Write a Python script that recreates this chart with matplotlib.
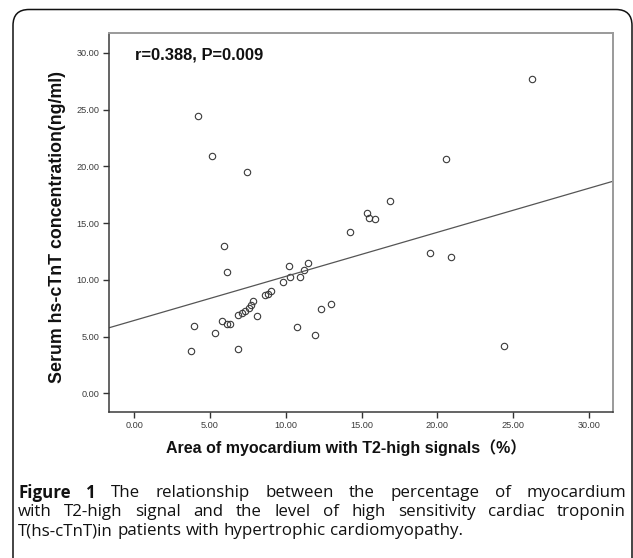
import matplotlib

matplotlib.use("Agg")
import matplotlib.pyplot as plt
import numpy as np
from matplotlib.patches import FancyBboxPatch
from matplotlib.transforms import IdentityTransform

# --- data -------------------------------------------------------------------
area_pct = [
    3.72, 3.92, 4.22, 5.11, 5.33, 5.81, 5.94, 6.10, 6.14, 6.34,
    6.82, 6.84, 7.09, 7.31, 7.46, 7.55, 7.72, 7.82, 8.09, 8.65,
    8.85, 9.03, 9.83, 10.23, 10.26, 10.74, 10.91, 11.21, 11.45, 11.95,
    12.32, 13.00, 14.23, 15.38, 15.51, 15.87, 16.88, 19.52, 20.55, 20.90,
    24.42, 26.25,
]
tnt_ngml = [
    3.73, 5.96, 24.43, 20.91, 5.34, 6.35, 13.00, 6.10, 10.73, 6.13,
    3.90, 6.86, 7.10, 7.29, 19.53, 7.50, 7.80, 8.10, 6.81, 8.62,
    8.78, 9.01, 9.81, 11.24, 10.22, 5.83, 10.22, 10.90, 11.48, 5.12,
    7.46, 7.84, 14.24, 15.89, 15.47, 15.38, 16.92, 12.36, 20.62, 12.01,
    4.20, 27.70,
]
fit_intercept = 6.42
fit_slope = 0.388

x_ticks = [0, 5, 10, 15, 20, 25, 30]
y_ticks = [0, 5, 10, 15, 20, 25, 30]
stat_text = "r=0.388, P=0.009"
x_label = "Area of myocardium with T2-high signals（%）"
y_label = "Serum hs-cTnT concentration(ng/ml)"
caption_lines = [
    [("Figure", "bold"), ("1", "bold"), ("The", "normal"), ("relationship", "normal"),
     ("between", "normal"), ("the", "normal"), ("percentage", "normal"),
     ("of", "normal"), ("myocardium", "normal")],
    [(w, "normal") for w in
     "with T2-high signal and the level of high sensitivity cardiac troponin".split()],
    [(w, "normal") for w in
     "T(hs-cTnT)in patients with hypertrophic cardiomyopathy.".split()],
]

# --- layout (pixels of a 633 x 558 image) -----------------------------------
W, H = 633, 558
SANS = ["Liberation Sans", "DejaVu Sans"]
SANS_CJK = ["Liberation Sans", "Noto Sans CJK SC", "DejaVu Sans"]
CAPTION_FONT = ["Open Sans", "DejaVu Sans"]

plt.rcParams.update({"font.family": SANS, "figure.facecolor": "white"})
fig = plt.figure(figsize=(W / 100, H / 100), dpi=100)
renderer = fig.canvas.get_renderer()


def fx(x):
    return x / W


def fy(y):
    return 1 - y / H


def fit_size(artist, target, vertical=False):
    """Rescale a text's font so its extent matches the size seen in the reference."""
    box = artist.get_window_extent(renderer)
    current = box.height if vertical else box.width
    artist.set_fontsize(artist.get_fontsize() * target / current)


# rounded frame around figure + caption
frame = FancyBboxPatch(
    (13, -60), 619, H - 9.5 + 60,
    boxstyle="round,pad=0,rounding_size=16",
    transform=IdentityTransform(), facecolor="none", edgecolor="#111111",
    linewidth=1.1,
)
fig.patches.append(frame)

left, right, top, bottom = 109.3, 613.0, 33.0, 411.7
ax = fig.add_axes([fx(left), fy(bottom), (right - left) / W, (bottom - top) / H])
ax.set_xlim(-1.65, 31.6)
ax.set_ylim(-1.62, 31.74)

ax.plot(area_pct, tnt_ngml, linestyle="none", marker="o", markersize=4.6,
        markerfacecolor="none", markeredgecolor="#3a3a3a", markeredgewidth=0.8)
xs = np.array(ax.get_xlim())
ax.plot(xs, fit_intercept + fit_slope * xs, color="#555555", linewidth=0.9)

ax.set_xticks(x_ticks, [f"{v:.2f}" for v in x_ticks])
ax.set_yticks(y_ticks, [f"{v:.2f}" for v in y_ticks])
ax.tick_params(direction="out", length=4, width=1.0, color="#333333",
               labelsize=6.6, labelcolor="#3c3c3c", pad=3)
for side in ("left", "bottom"):
    ax.spines[side].set_color("#3a3a3a")
    ax.spines[side].set_linewidth(1.1)
for side in ("top", "right"):
    ax.spines[side].set_color("#9a9a9a")
    ax.spines[side].set_linewidth(1.4)

stat = fig.text(fx(135), fy(55), stat_text, ha="left", va="center", fontsize=11.5,
                fontweight="bold", color="#111111")
fit_size(stat, 129)

xlab = fig.text(fx(346.5), fy(448), x_label, ha="center", va="center", fontsize=11,
                fontweight="bold", family=SANS_CJK, color="#111111")
fit_size(xlab, 361)
ylab = fig.text(fx(57), fy(227.5), y_label, ha="center", va="center", rotation=90,
                fontsize=11.8, fontweight="bold", color="#111111")
fit_size(ylab, 309, vertical=True)

# caption font size from the width of the last (unjustified) line
probe = fig.text(0, 0, " ".join(w for w, _ in caption_lines[2]), fontsize=10,
                 family=CAPTION_FONT)
cap_size = 10 * 445 / probe.get_window_extent(renderer).width
probe.remove()
space_probe = fig.text(0, 0, "a a", fontsize=cap_size, family=CAPTION_FONT)
aa_probe = fig.text(0, 0, "aa", fontsize=cap_size, family=CAPTION_FONT)
space_w = (space_probe.get_window_extent(renderer).width
           - aa_probe.get_window_extent(renderer).width)
space_probe.remove()
aa_probe.remove()

# justified caption
cap_x0, cap_x1 = 18, 626
cap_y = [493, 512, 531]
for i, (words, y) in enumerate(zip(caption_lines, cap_y)):
    artists = [
        fig.text(0, fy(y), w, fontsize=cap_size, fontweight=wt, ha="left",
                 va="center", family=CAPTION_FONT, color="#111111")
        for w, wt in words
    ]
    widths = [a.get_window_extent(renderer).width for a in artists]
    if i < len(caption_lines) - 1:
        gap = (cap_x1 - cap_x0 - sum(widths)) / (len(words) - 1)
    else:
        gap = space_w
    x = cap_x0
    for a, w in zip(artists, widths):
        a.set_x(fx(x))
        x += w + gap

fig.savefig("out.png", dpi=100, facecolor="white")
